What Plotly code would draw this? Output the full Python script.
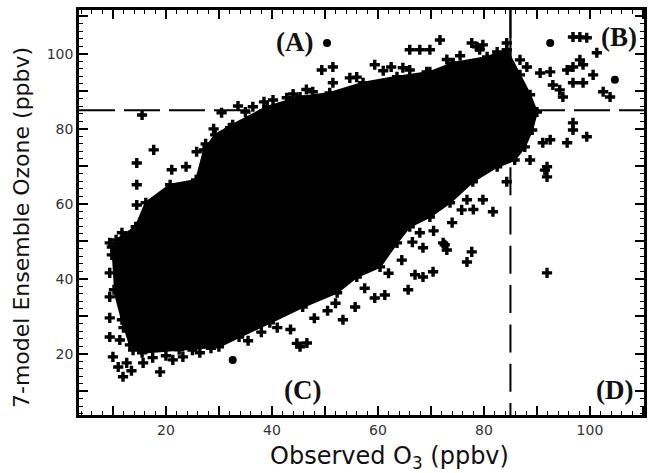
import plotly.graph_objects as go

# Outline of the solid (saturated) core of the point cloud (ppbv)
cloud_x = [9.8, 10.6, 14.3, 16.2, 20.8, 25.7, 27.2, 29.3, 32.6, 39.1, 45.3, 50.9, 57.2, 63.6,
           69.8, 74.2, 80.6, 84.3, 86.8, 88.7, 90.0, 89.1, 87.7, 85.8, 82.5, 77.9, 73.6,
           69.8, 66.0, 63.6, 60.4, 56.0, 52.3, 45.8, 39.6, 33.8, 30.0, 22.5, 15.5, 13.2,
           11.7, 10.2]
cloud_y = [46.4, 50.4, 53.9, 60.3, 65.1, 66.4, 74.4, 78.4, 81.1, 85.9, 88.5, 89.6, 92.3, 93.9,
           95.2, 97.6, 99.2, 101.1, 94.4, 89.1, 84.5, 79.7, 75.2, 71.7, 69.9, 65.9, 60.3,
           56.5, 53.9, 49.6, 43.2, 40.5, 36.3, 32.5, 28.3, 24.5, 21.9, 21.1, 20.3, 22.4,
           29.1, 37.1]

# Individual (plus) points outside / on the edge of the saturated core
pts_x = [15.5, 17.7, 14.5, 14.5, 14.5, 25.8, 23.8, 21.1, 30.5, 33.6, 32.1, 36.4, 40.2, 42.8,
         47.7, 49.4, 51.5, 51.5, 54.7, 59.4, 64.7, 66.0, 69.2, 71.3, 66.0, 67.9, 69.8, 71.7,
         77.7, 78.7, 79.8, 79.2, 84.3, 11.7, 9.8,
         96.8, 98.1, 99.4, 101.3, 98.1, 96.8, 98.7, 95.7, 100.6, 102.5, 103.8, 96.8, 98.7,
         94.3, 93.0, 90.6, 92.5, 86.8, 88.1, 94.9, 96.8, 96.8, 95.7, 99.4, 92.5, 91.1, 88.7,
         91.9, 91.9, 91.5, 84.3, 81.7, 79.8, 76.8, 91.9,
         77.7, 76.8, 68.5, 72.6, 73.0, 70.4, 68.5, 67.0, 65.7, 61.3, 59.4, 55.7, 53.4, 67.9,
         72.3, 75.8, 45.3, 46.6, 44.7,
         18.9, 11.9, 10.0, 12.6, 15.7, 9.4, 9.4, 9.4, 9.4, 9.4, 11.3, 23.2, 26.4, 21.3, 30.2,
         13.5, 11.0,
         27.5, 29.0, 35.0, 38.5, 44.0, 46.5, 56.0, 61.0, 62.5, 73.0, 75.5, 82.5,
         41.0, 43.5, 48.0, 50.5, 52.0, 57.5, 62.0, 64.5, 66.5, 70.5, 74.0, 78.0,
         12.0, 11.5, 12.3, 12.0, 13.8, 17.5, 20.0, 25.0, 28.5, 35.5, 38.0]
pts_y = [83.7, 74.4, 70.9, 65.1, 59.7, 73.9, 69.9, 69.1, 84.3, 86.1, 80.3, 85.9, 87.7, 88.3,
         89.9, 95.7, 96.5, 92.3, 93.6, 97.1, 96.3, 95.7, 95.2, 94.4, 101.1, 101.1, 101.1, 103.7,
         102.9, 101.9, 102.4, 101.1, 102.9, 52.3, 48.5,
         104.5, 104.5, 104.3, 100.3, 98.4, 96.5, 97.1, 95.7, 94.4, 89.9, 88.5, 92.3, 92.3,
         90.4, 91.7, 94.9, 95.2, 98.4, 96.5, 88.5, 81.6, 79.7, 76.3, 77.9, 77.1, 76.3, 71.7,
         69.9, 67.2, 69.0, 65.9, 57.9, 61.1, 61.1, 41.6,
         47.2, 44.5, 48.3, 49.1, 47.7, 41.9, 40.5, 41.1, 37.1, 35.7, 34.9, 32.5, 29.1, 52.3,
         49.6, 58.4, 21.9, 22.9, 22.8,
         15.2, 13.9, 19.2, 17.6, 17.6, 49.6, 41.6, 35.2, 29.6, 24.5, 23.7, 19.2, 20.3, 18.4, 22.9,
         15.5, 16.5,
         76.0, 80.0, 84.5, 87.2, 89.3, 90.5, 93.8, 95.5, 96.5, 98.5, 99.5, 100.5,
         27.0, 26.5, 29.5, 31.5, 33.5, 37.5, 41.5, 45.0, 49.8, 52.8, 55.0, 58.5,
         45.0, 39.0, 33.0, 27.0, 21.0, 19.0, 19.5, 21.0, 21.5, 23.5, 25.8]

# Points that appear as round dots
dot_x = [50.4, 92.5, 104.7, 32.6]
dot_y = [102.9, 102.9, 93.1, 18.4]

# Threshold (ppbv) and axis settings
threshold = 85
x_range = [3.6, 110.2]
y_range = [3.7, 111.7]
tick_vals = [10, 20, 30, 40, 50, 60, 70, 80, 90, 100, 110]
tick_text = ["", "20", "", "40", "", "60", "", "80", "", "100", ""]

quad_labels = ["(A)", "(B)", "(C)", "(D)"]
quad_x = [44.3, 105.5, 45.8, 104.7]
quad_y = [103.2, 104.5, 10.4, 10.4]

fig = go.Figure()
fig.add_trace(go.Scatter(x=cloud_x, y=cloud_y, fill="toself", fillcolor="black",
                         mode="lines+markers", line=dict(color="black", width=2),
                         marker=dict(symbol="cross", size=8.5, color="black"),
                         hoverinfo="skip", showlegend=False))
fig.add_trace(go.Scatter(x=pts_x, y=pts_y, mode="markers",
                         marker=dict(symbol="cross", size=8.5, color="black"),
                         showlegend=False))
fig.add_trace(go.Scatter(x=dot_x, y=dot_y, mode="markers",
                         marker=dict(symbol="circle", size=8, color="black"),
                         showlegend=False))

axis_common = dict(
    showgrid=False, zeroline=False, showline=True, linecolor="black", linewidth=2.5,
    mirror="ticks", ticks="inside", ticklen=9, tickwidth=1.5, tickcolor="black",
    tickmode="array", tickvals=tick_vals, ticktext=tick_text, automargin=False,
    tickfont=dict(family="DejaVu Sans", size=14, color="#333"),
    minor=dict(dtick=2, ticks="inside", ticklen=4, tickwidth=1.2, tickcolor="black"),
)
fig.update_xaxes(range=x_range, **axis_common)
fig.update_yaxes(range=y_range, **axis_common)

# Threshold lines
fig.add_shape(type="line", xref="x", yref="y", x0=x_range[0], x1=x_range[1],
              y0=threshold, y1=threshold, layer="below",
              line=dict(color="black", width=2, dash="36px,9px"))
fig.add_shape(type="line", xref="x", yref="y", x0=threshold, x1=threshold,
              y0=y_range[1], y1=y_range[0], layer="below",
              line=dict(color="black", width=2, dash="28px,11.3px"))
fig.add_shape(type="line", xref="x", yref="y", x0=threshold, x1=threshold,
              y0=threshold, y1=y_range[1], layer="below",
              line=dict(color="black", width=2))

for t, x, y in zip(quad_labels, quad_x, quad_y):
    fig.add_annotation(x=x, y=y, xref="x", yref="y", text="<b>" + t + "</b>", showarrow=False,
                       font=dict(family="Liberation Serif", size=27, color="#111"),
                       xanchor="center", yanchor="middle")

fig.add_annotation(x=0.549, y=-0.106, xref="paper", yref="paper",
                   text="Observed O<sub>3</sub> (ppbv)", showarrow=False,
                   font=dict(family="DejaVu Sans", size=24, color="#111"),
                   xanchor="center", yanchor="middle")
fig.add_annotation(x=-0.1027, y=0.464, xref="paper", yref="paper",
                   text="7-model Ensemble Ozone (ppbv)", showarrow=False, textangle=-90,
                   font=dict(family="DejaVu Sans", size=22, color="#111"),
                   xanchor="center", yanchor="middle")

fig.update_layout(width=648, height=473, margin=dict(l=79, r=4, t=10, b=58),
                  plot_bgcolor="white", paper_bgcolor="white", showlegend=False)

fig.write_html("out.html", config={"displayModeBar": False},
               post_script="document.body.style.margin='0px';")
